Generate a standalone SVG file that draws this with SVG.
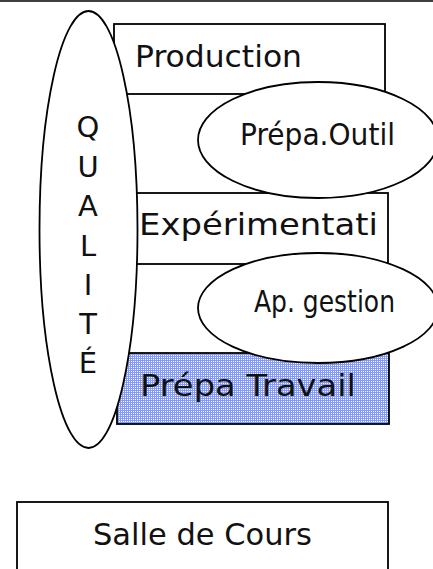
<svg xmlns="http://www.w3.org/2000/svg" width="433" height="569" viewBox="0 0 433 569">
  <style>
    .box { fill: #ffffff; stroke: #000000; stroke-width: 1.8; }
    .oval { fill: #ffffff; stroke: #000000; stroke-width: 1.8; }
    .lbl { font-family: "DejaVu Sans", "Liberation Sans", sans-serif; font-size: 31px; fill: #111111; }
    .vert { font-family: "DejaVu Sans", "Liberation Sans", sans-serif; font-size: 29px; fill: #111111; text-anchor: middle; }
  </style>
  <defs>
    <!-- dithered blue fill -->
    <pattern id="dither" width="2" height="2" patternUnits="userSpaceOnUse">
      <rect width="2" height="2" fill="#8299f5"/>
      <rect x="1" y="1" width="1" height="1" fill="#ffffff"/>
    </pattern>
  </defs>
  <rect width="433" height="569" fill="#ffffff"/>
  <line x1="0" y1="1" x2="433" y2="1" stroke="#000000" stroke-width="1.6"/>

  <g id="production">
    <rect class="box" x="114" y="24" width="271" height="70"/>
    <text class="lbl" x="135" y="67" textLength="167" lengthAdjust="spacingAndGlyphs">Production</text>
  </g>

  <g id="experimentation">
    <rect class="box" x="114" y="193" width="274" height="71"/>
    <text class="lbl" x="139" y="235" textLength="239" lengthAdjust="spacingAndGlyphs">Expérimentati</text>
  </g>

  <g id="prepa-travail">
    <rect x="117" y="353" width="272" height="71" fill="url(#dither)" stroke="#000000" stroke-width="1.8"/>
    <text class="lbl" x="140" y="396" textLength="216" lengthAdjust="spacingAndGlyphs">Prépa Travail</text>
  </g>

  <g id="salle-de-cours">
    <rect class="box" x="17" y="502" width="371" height="80"/>
    <text class="lbl" x="93" y="545" textLength="219" lengthAdjust="spacingAndGlyphs">Salle de Cours</text>
  </g>

  <g id="prepa-outil">
    <ellipse class="oval" cx="318" cy="140" rx="120" ry="58"/>
    <text class="lbl" x="240" y="145" textLength="155" lengthAdjust="spacingAndGlyphs">Prépa.Outil</text>
  </g>

  <g id="ap-gestion">
    <ellipse class="oval" cx="318" cy="308" rx="120" ry="55"/>
    <text class="lbl" x="254" y="312" textLength="141" lengthAdjust="spacingAndGlyphs">Ap. gestion</text>
  </g>

  <g id="qualite">
    <ellipse class="oval" cx="88.5" cy="229.5" rx="49" ry="218.5"/>
    <text class="vert" x="88" y="137">Q</text>
    <text class="vert" x="88" y="177">U</text>
    <text class="vert" x="88" y="216">A</text>
    <text class="vert" x="88" y="256">L</text>
    <text class="vert" x="88" y="295">I</text>
    <text class="vert" x="88" y="334">T</text>
    <text class="vert" x="88" y="373">É</text>
  </g>

  <g id="connectors"></g>
</svg>
